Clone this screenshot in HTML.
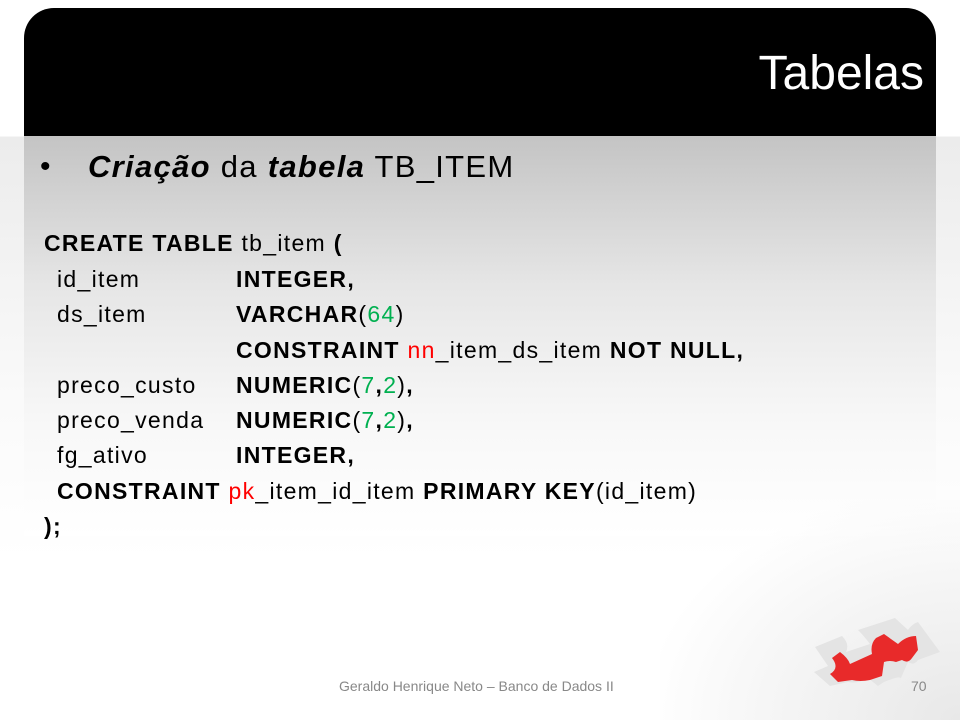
<!DOCTYPE html>
<html><head><meta charset="utf-8"><style>
body{margin:0;width:960px;height:720px;overflow:hidden;position:relative;font-family:"Liberation Sans",sans-serif;
background:linear-gradient(to bottom,#fff 0,#fff 136px,#ececec 137px,#fafafa 400px,#fff 560px);}
.hdr{position:absolute;left:24px;top:8px;width:912px;height:128px;background:#000;border-radius:30px 30px 0 0;}
.title{position:absolute;right:12px;top:38px;color:#fff;font-size:48px;}
.panel{position:absolute;left:24px;top:136px;width:912px;height:400px;background:linear-gradient(to bottom,#c4c4c4 0,#e6e6e6 150px,#f7f7f7 280px,#fff 400px);}
.corner{position:absolute;right:0;bottom:0;width:300px;height:220px;background:radial-gradient(ellipse at 100% 100%,#e8e8e8 0,#f4f4f4 40%,rgba(255,255,255,0) 75%);}
.t{position:absolute;font-size:23px;letter-spacing:1.3px;color:#000;white-space:nowrap;line-height:26px;}
b{font-weight:bold}.g{color:#00b050}.r{color:#f00}
.foot{position:absolute;top:678px;font-size:14px;color:#888;}
</style></head><body>
<div class="panel"></div>
<div class="corner"></div>
<div class="hdr"><div class="title">Tabelas</div></div>
<div class="t" style="left:40px;top:150px;font-size:30px;line-height:34px">•</div>
<div class="t" style="left:88px;top:150px;font-size:31px;letter-spacing:1.3px;line-height:34px"><b><i>Criação</i></b> da <b><i>tabela</i></b> TB_ITEM</div>
<div class="t" style="left:44px;top:230px"><b>CREATE TABLE</b> tb_item <b>(</b></div>
<div class="t" style="left:57px;top:266px">id_item</div>
<div class="t" style="left:236px;top:266px"><b>INTEGER,</b></div>
<div class="t" style="left:57px;top:301px">ds_item</div>
<div class="t" style="left:236px;top:301px"><b>VARCHAR</b>(<span class="g">64</span>)</div>
<div class="t" style="left:236px;top:337px"><b>CONSTRAINT</b> <span class="r">nn</span>_item_ds_item <b>NOT NULL,</b></div>
<div class="t" style="left:57px;top:372px">preco_custo</div>
<div class="t" style="left:236px;top:372px"><b>NUMERIC</b>(<span class="g">7</span><b>,</b><span class="g">2</span>)<b>,</b></div>
<div class="t" style="left:57px;top:407px">preco_venda</div>
<div class="t" style="left:236px;top:407px"><b>NUMERIC</b>(<span class="g">7</span><b>,</b><span class="g">2</span>)<b>,</b></div>
<div class="t" style="left:57px;top:442px">fg_ativo</div>
<div class="t" style="left:236px;top:442px"><b>INTEGER,</b></div>
<div class="t" style="left:57px;top:478px"><b>CONSTRAINT</b> <span class="r">pk</span>_item_id_item <b>PRIMARY KEY</b>(id_item)</div>
<div class="t" style="left:44px;top:513px"><b>);</b></div>
<div class="foot" style="left:339px">Geraldo Henrique Neto – Banco de Dados II</div>
<div class="foot" style="left:911px">70</div>
<svg style="position:absolute;left:800px;top:600px" width="160" height="120" viewBox="0 0 160 120">
<path d="M15,47 L42,36 Q50,44 46,52 L70,44 Q64,36 58,30 L95,18 L108,30 Q112,24 118,22 L140,52 L118,60 Q114,66 108,62 L100,80 Q104,74 84,82 L78,86 L68,78 Q58,84 48,82 L30,86 L14,72 L28,66 Z" fill="#e4e4e4"/>
<path d="M32,58 L40,52 Q48,58 50,64 L72,54 Q70,44 76,38 L84,34 L98,44 Q106,36 116,36 L118,50 L112,58 Q108,64 102,60 L96,62 Q90,60 84,62 L82,76 L70,80 Q60,82 52,80 L38,82 L30,74 Q40,68 32,58 Z" fill="#e82a2a"/>
</svg>
</body></html>
